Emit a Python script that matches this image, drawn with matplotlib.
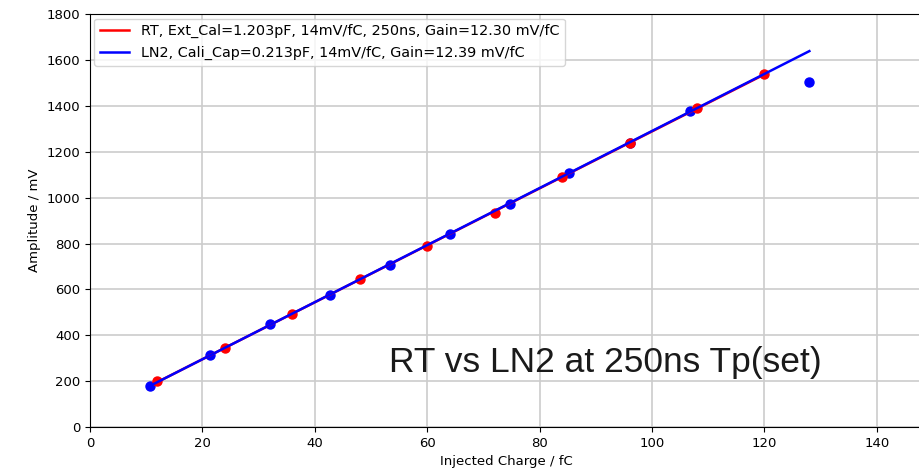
import numpy as np
import matplotlib
matplotlib.use('Agg')
import matplotlib.pyplot as plt

# RT measurement (external cal cap)
rt_charge = [12, 24, 36, 48, 60, 72, 84, 96, 108, 120]
rt_amp = [200, 345, 495, 645, 790, 935, 1090, 1240, 1390, 1540]

# LN2 measurement (internal cali cap)
ln2_charge = [10.7, 21.3, 32, 42.7, 53.3, 64, 74.7, 85.3, 96, 106.7, 128]
ln2_amp = [180, 315, 448, 578, 708, 840, 972, 1108, 1240, 1380, 1505]

rt_label = 'RT, Ext_Cal=1.203pF, 14mV/fC, 250ns, Gain=12.30 mV/fC'
ln2_label = 'LN2, Cali_Cap=0.213pF, 14mV/fC, Gain=12.39 mV/fC'

fig = plt.figure(figsize=(9.19, 4.73), dpi=100)
ax = fig.add_axes([0.098, 0.097, 0.905, 0.873])

# linear fits (LN2 fit ignores the saturated last point)
rt_fit = np.polyfit(rt_charge, rt_amp, 1)
ln2_fit = np.polyfit(ln2_charge[:-1], ln2_amp[:-1], 1)
rt_x = np.array([rt_charge[0], rt_charge[-1]])
ln2_x = np.array([ln2_charge[0], ln2_charge[-1]])

ax.plot(ln2_charge, ln2_amp, 'o', color='blue', markersize=6.5)
ax.plot(rt_charge, rt_amp, 'o', color='red', markersize=6.5)
ax.plot(rt_x, np.polyval(rt_fit, rt_x), color='red', lw=1.8, label=rt_label)
ax.plot(ln2_x, np.polyval(ln2_fit, ln2_x), color='blue', lw=1.8, label=ln2_label)

ax.set_xlim(0, 148)
ax.set_ylim(0, 1800)
ax.set_xticks(range(0, 141, 20))
ax.set_yticks(range(0, 1801, 200))
ax.tick_params(labelsize=9.5)
ax.grid(True, color='#cccccc', lw=1.2)
ax.set_axisbelow(True)
ax.set_xlabel('Injected Charge / fC', fontsize=9.5)
ax.set_ylabel('Amplitude / mV', fontsize=9.5)
ax.legend(loc='upper left', fontsize=10.4, handlelength=2, borderaxespad=0.3)

ax.text(0.36, 0.133, 'RT vs LN2 at 250ns Tp(set)', transform=ax.transAxes,
        fontsize=25.5, color='#1a1a1a', va='baseline', family='Liberation Sans')

fig.savefig('out.png', dpi=100)
